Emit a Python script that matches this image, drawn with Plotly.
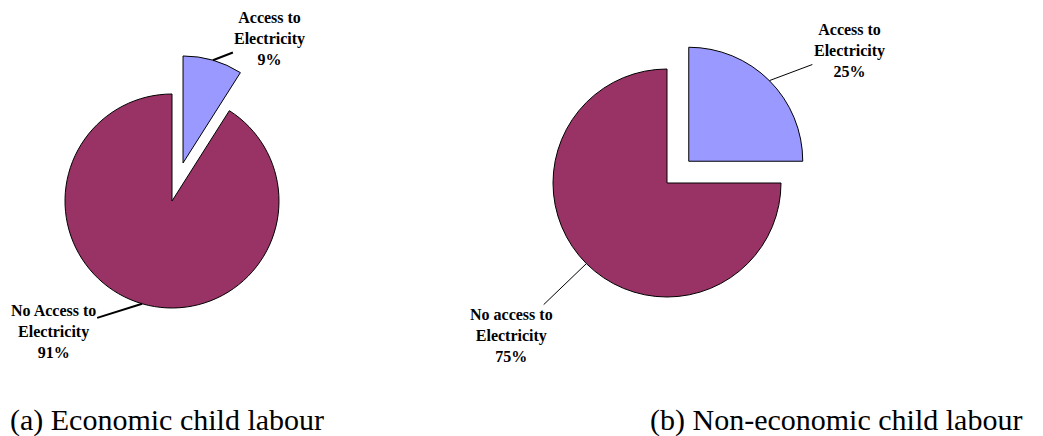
import math
import plotly.graph_objects as go

# page body has an 8px margin: the figure is drawn at (8, 8) in the window
OFF = 8
W, H = 1043 - OFF, 436 - OFF

# ---- data ----
labels_a = ["Access to<br>Electricity", "No Access to<br>Electricity"]
values_a = [9, 91]
labels_b = ["Access to<br>Electricity", "No access to<br>Electricity"]
values_b = [25, 75]
captions = ["(a) Economic child labour", "(b) Non-economic child labour"]

COLORS = ["#9999FF", "#993366"]

# ---- layout of the two pies (screen-pixel centre, radius, pull) ----
pies = [
    dict(values=values_a, labels=labels_a, cx=172, cy=201, r=107, pull=0.37,
         lw=2, offsets=[(57, -22), (-89, 28)]),
    dict(values=values_b, labels=labels_b, cx=667, cy=183, r=114, pull=0.27,
         lw=1, offsets=[(80, -30), (-75, 72)]),
]

fig = go.Figure()
annotations = []
for p in pies:
    cx, cy = p["cx"] - OFF, p["cy"] - OFF
    half = p["r"] * (1 + p["pull"])
    dx = [(cx - half) / W, (cx + half) / W]
    dy = [(H - cy - half) / H, (H - cy + half) / H]
    pulls = [p["pull"], 0]
    fig.add_trace(go.Pie(
        values=p["values"], labels=p["labels"], sort=False,
        direction="clockwise", rotation=0, pull=pulls,
        marker=dict(colors=COLORS, line=dict(color="black", width=1)),
        textinfo="none", hoverinfo="label+percent", showlegend=False,
        domain=dict(x=dx, y=dy),
    ))
    total = sum(p["values"])
    start = 0.0
    for i, v in enumerate(p["values"]):
        mid = (start + v / 2) / total * 2 * math.pi
        start += v
        ox = pulls[i] * p["r"] * math.sin(mid)
        oy = -pulls[i] * p["r"] * math.cos(mid)
        px = cx + ox + p["r"] * math.sin(mid)
        py = cy + oy - p["r"] * math.cos(mid)
        pct = round(v / total * 100)
        annotations.append(dict(
            x=px / W, y=(H - py) / H, xref="paper", yref="paper",
            text="<b>%s<br>%d%%</b>" % (p["labels"][i], pct),
            showarrow=True, arrowhead=0, arrowwidth=p["lw"], arrowcolor="black",
            ax=p["offsets"][i][0], ay=p["offsets"][i][1],
            font=dict(family="Liberation Serif", size=16, color="black"),
            align="center",
        ))

annotations.append(dict(x=0, y=0, xref="paper", yref="paper", xanchor="left",
                        yanchor="bottom", yshift=-3, showarrow=False,
                        text=captions[0],
                        font=dict(family="Liberation Serif", size=30, color="black")))
annotations.append(dict(x=(1024 - OFF) / W, y=0, xref="paper", yref="paper", xanchor="right",
                        yanchor="bottom", yshift=-3, showarrow=False, text=captions[1],
                        font=dict(family="Liberation Serif", size=30, color="black")))

fig.update_layout(
    width=W, height=H, margin=dict(l=0, r=0, t=0, b=0),
    paper_bgcolor="white", plot_bgcolor="white",
    annotations=annotations,
)
fig.write_html("out.html")
